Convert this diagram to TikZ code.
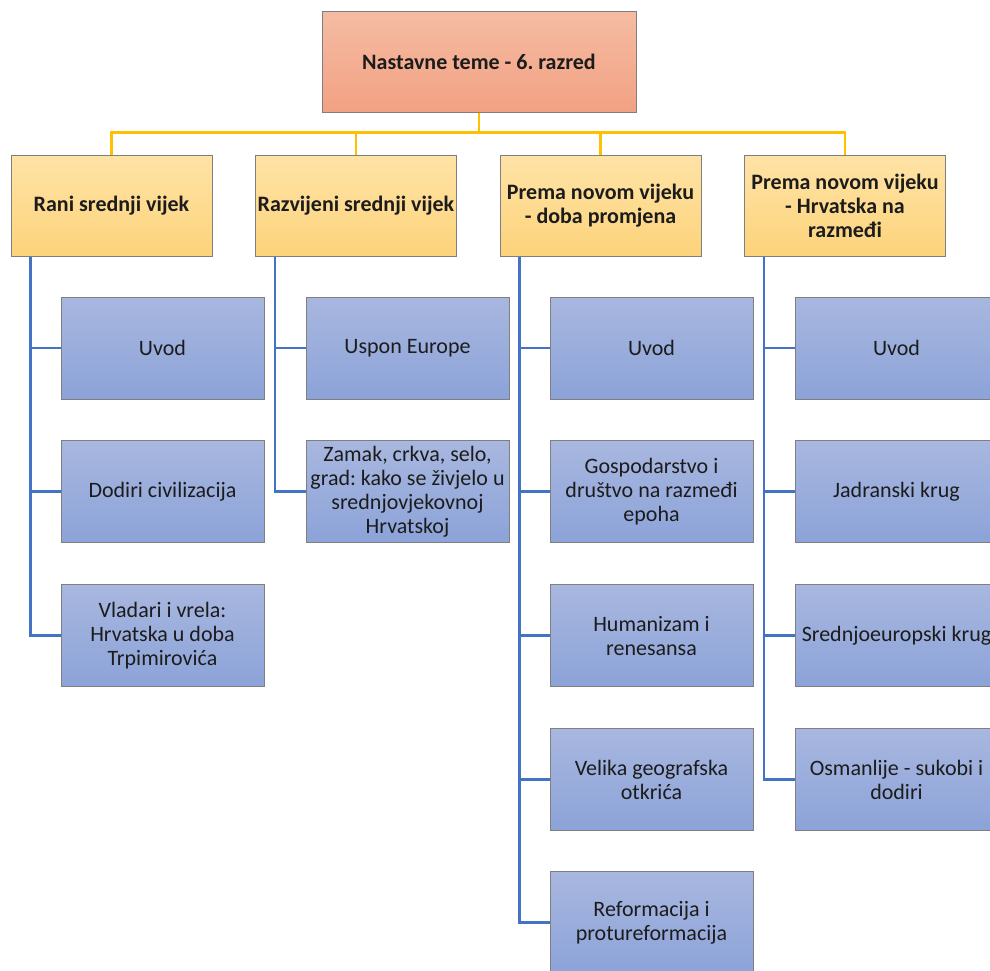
\documentclass[tikz,border=0pt]{standalone}
\usepackage{fontspec}
\setmainfont{Carlito}
\frenchspacing

\definecolor{rootTop}{HTML}{F5BCA3}
\definecolor{rootBot}{HTML}{F2A183}
\definecolor{headTop}{HTML}{FEE3A6}
\definecolor{headBot}{HTML}{FDD37B}
\definecolor{itemTop}{HTML}{A8B7DF}
\definecolor{itemBot}{HTML}{8CA3D9}
\definecolor{busYellow}{HTML}{FFC000}
\definecolor{busBlue}{HTML}{4472C4}
\definecolor{frame}{HTML}{7F7F7F}
\definecolor{ink}{HTML}{1C1C1C}

\begin{document}
\begin{tikzpicture}[x=1pt,y=-1pt,
	box/.style={draw=frame,line width=1pt,text=ink,align=center,inner xsep=0pt,
		font=\fontsize{22}{24}\selectfont},
	root/.style={box,top color=rootTop,bottom color=rootBot,
		minimum width=314pt,minimum height=101pt,font=\fontsize{22}{24}\selectfont\bfseries},
	topic/.style={box,top color=headTop,bottom color=headBot,
		minimum width=201pt,minimum height=101pt,font=\fontsize{22}{24}\selectfont\bfseries},
	lesson/.style={box,top color=itemTop,bottom color=itemBot,
		minimum width=203pt,minimum height=102pt},
	yline/.style={draw=busYellow,line width=2.5pt},
	bline/.style={draw=busBlue,line width=2.5pt}]
	\clip (0,0) rectangle (990,970);
	\useasboundingbox (0,0) rectangle (990,970);

	% root and topics
	\node[root] (root) at (479,61.5) {Nastavne teme - 6. razred};
	\node[topic] (t1) at (111.5,205.5) {Rani srednji vijek};
	\node[topic] (t2) at (356,205.5) {Razvijeni srednji vijek};
	\node[topic] (t3) at (600.5,205.5) {Prema novom vijeku\\- doba promjena};
	\node[topic] (t4) at (845,205.5) {Prema novom vijeku\\- Hrvatska na\\razmeđi};

	% lessons
	\node[lesson] (a1) at (162.5,348) {Uvod};
	\node[lesson] (a2) at (162.5,491.5) {Dodiri civilizacija};
	\node[lesson] (a3) at (162.5,635.5) {Vladari i vrela:\\Hrvatska u doba\\Trpimirovića};

	\node[lesson] (b1) at (407.5,348) {Uspon Europe};
	\node[lesson] (b2) at (407.5,491.5) {Zamak, crkva, selo,\\grad: kako se živjelo u\\srednjovjekovnoj\\Hrvatskoj};

	\node[lesson] (c1) at (651.5,348) {Uvod};
	\node[lesson] (c2) at (651.5,491.5) {Gospodarstvo i\\društvo na razmeđi\\epoha};
	\node[lesson] (c3) at (651.5,635.5) {Humanizam i\\renesansa};
	\node[lesson] (c4) at (651.5,779.5) {Velika geografska\\otkrića};
	\node[lesson] (c5) at (651.5,922.5) {Reformacija i\\protureformacija};

	\node[lesson] (d1) at (896.5,348) {Uvod};
	\node[lesson] (d2) at (896.5,491.5) {Jadranski krug};
	\node[lesson] (d3) at (896.5,635.5) {Srednjoeuropski krug};
	\node[lesson] (d4) at (896.5,779.5) {Osmanlije - sukobi i\\dodiri};

	% connectors
	\foreach \t in {t1,t2,t3,t4}
		\draw[yline] (root.south) -- ++(0,20) -| (\t.north);
	\foreach \l in {a1,a2,a3}
		\draw[bline] (t1.south west) ++(20,0) |- (\l.west);
	\foreach \l in {b1,b2}
		\draw[bline] (t2.south west) ++(20,0) |- (\l.west);
	\foreach \l in {c1,c2,c3,c4,c5}
		\draw[bline] (t3.south west) ++(20,0) |- (\l.west);
	\foreach \l in {d1,d2,d3,d4}
		\draw[bline] (t4.south west) ++(20,0) |- (\l.west);
\end{tikzpicture}
\end{document}
